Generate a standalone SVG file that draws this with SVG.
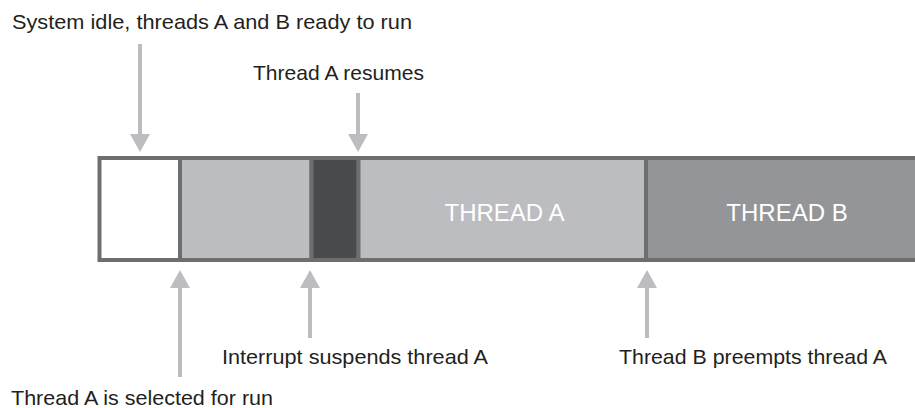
<svg xmlns="http://www.w3.org/2000/svg" width="915" height="408" viewBox="0 0 915 408">
<defs>
<marker id="ah" markerUnits="userSpaceOnUse" markerWidth="18" markerHeight="20" refX="14" refY="10" orient="auto" viewBox="0 0 18 20">
<path d="M0,0 L18,10 L0,20 Z" fill="#bcbdc0"/>
</marker>
<style>
.lbl{font-family:"Liberation Sans",Arial,sans-serif;font-size:21px;fill:#231f20}
.blk{font-family:"Liberation Sans",Arial,sans-serif;font-size:24px;fill:#ffffff;text-anchor:middle}
.seg{stroke:#6d6e70;stroke-width:4}
.arr{stroke:#bcbdc0;stroke-width:4;fill:none}
</style>
</defs>
<g id="timeline">
<rect id="idle" class="seg" x="99.5" y="158" width="80.5" height="102" fill="#ffffff"/>
<rect id="select" class="seg" x="180" y="158" width="131.5" height="102" fill="#bcbdc0"/>
<rect id="interrupt" class="seg" x="311.5" y="158" width="47" height="102" fill="#4a4b4d"/>
<g id="threadA">
<rect class="seg" x="358.5" y="158" width="287.5" height="102" fill="#bcbdc0"/>
<text class="blk" x="504.5" y="220.5">THREAD A</text>
</g>
<g id="threadB">
<rect class="seg" x="646" y="158" width="275" height="102" fill="#939598"/>
<text class="blk" x="787" y="220.5">THREAD B</text>
</g>
</g>
<g id="connectors">
<line class="arr" x1="140" y1="44" x2="140" y2="148" marker-end="url(#ah)"/>
<line class="arr" x1="358" y1="93" x2="358" y2="148" marker-end="url(#ah)"/>
<line class="arr" x1="180" y1="377" x2="180" y2="274" marker-end="url(#ah)"/>
<line class="arr" x1="310" y1="338" x2="310" y2="274" marker-end="url(#ah)"/>
<line class="arr" x1="647" y1="338" x2="647" y2="274" marker-end="url(#ah)"/>
</g>
<g id="labels">
<text id="t1" class="lbl" x="12" y="29" textLength="400" lengthAdjust="spacingAndGlyphs">System idle, threads A and B ready to run</text>
<text id="t2" class="lbl" x="253" y="80" textLength="171" lengthAdjust="spacingAndGlyphs">Thread A resumes</text>
<text id="t3" class="lbl" x="222" y="364" textLength="266" lengthAdjust="spacingAndGlyphs">Interrupt suspends thread A</text>
<text id="t4" class="lbl" x="619" y="364" textLength="268" lengthAdjust="spacingAndGlyphs">Thread B preempts thread A</text>
<text id="t5" class="lbl" x="11" y="405" textLength="262" lengthAdjust="spacingAndGlyphs">Thread A is selected for run</text>
</g>
</svg>
